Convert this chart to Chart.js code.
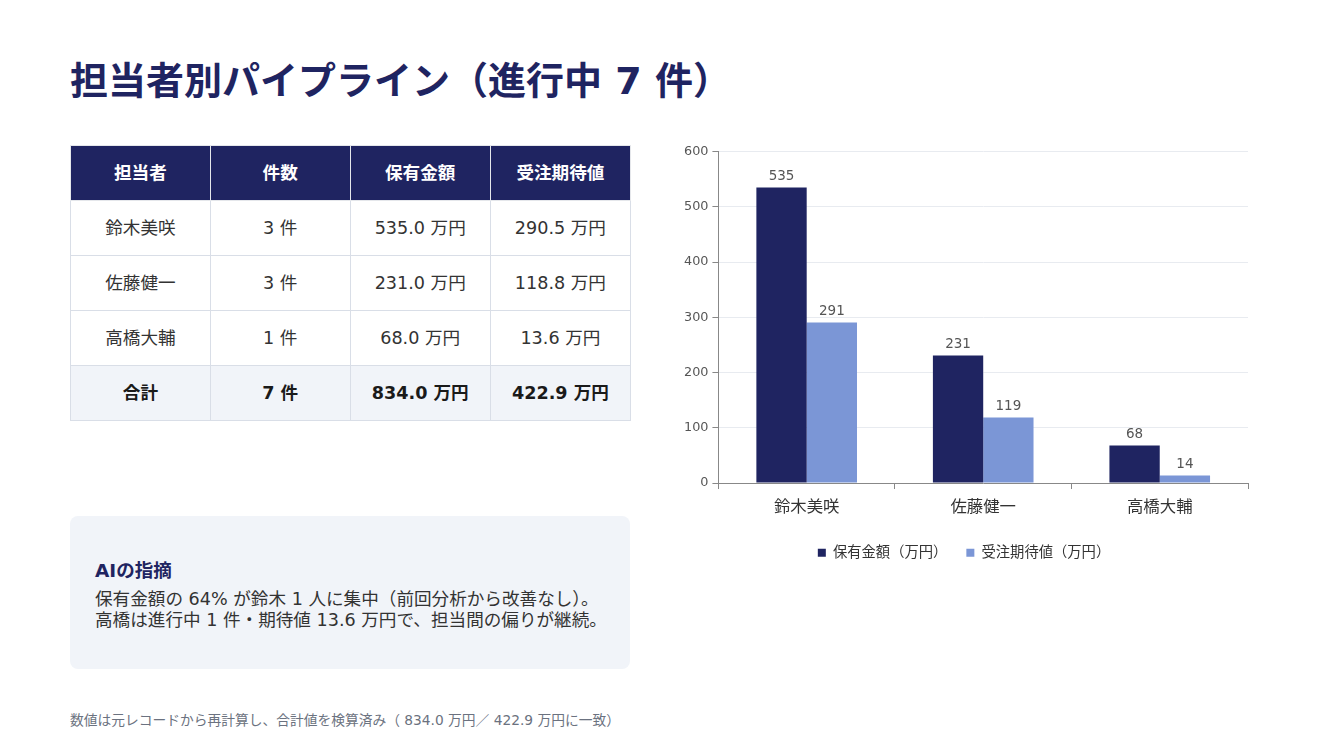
<!DOCTYPE html>
<html lang="ja">
<head>
<meta charset="utf-8">
<script src="https://cdn.jsdelivr.net/npm/chart.js@4.4.1/dist/chart.umd.min.js"></script>
<style>
  body { margin: 0; background: #fff; font-family: "DejaVu Sans", "Noto Sans CJK JP", sans-serif; color: #333; }
  .page { position: relative; width: 1334px; height: 750px; }
  h1 { position: absolute; left: 70px; top: 50px; margin: 0; font-size: 38px; font-weight: bold; color: #1f2461; }
  table { position: absolute; left: 70px; top: 145px; border-collapse: collapse; width: 561px; }
  th, td { width: 140px; height: 51px; border: 1px solid #d9dee7; text-align: center; font-size: 17.6px; padding: 0 0 3px 0; }
  th { background: #1f2461; color: #fff; font-weight: bold; border-color: #e5e7eb; }
  tr.total td { background: #f1f4f9; font-weight: bold; color: #1a1a1a; }
  .note { position: absolute; left: 70px; top: 516px; width: 560px; height: 153px; background: #f1f4f9; border-radius: 8px; }
  .note h2 { position: absolute; left: 25px; top: 40px; margin: 0; font-size: 18.5px; font-weight: bold; color: #1f2461; }
  .note p { position: absolute; left: 25px; top: 73px; margin: 0; font-size: 17.6px; line-height: 21px; color: #333; white-space: nowrap; }
  .foot { position: absolute; left: 70px; top: 709px; font-size: 13.75px; color: #6b7280; }
  .chart { position: absolute; left: 672px; top: 140px; width: 590px; height: 430px; }
</style>
</head>
<body>
<div class="page">
  <h1>担当者別パイプライン（進行中 7 件）</h1>
  <table id="tbl"></table>
  <div class="note">
    <h2>AIの指摘</h2>
    <p>保有金額の 64% が鈴木 1 人に集中（前回分析から改善なし）。<br>高橋は進行中 1 件・期待値 13.6 万円で、担当間の偏りが継続。</p>
  </div>
  <div class="foot">数値は元レコードから再計算し、合計値を検算済み（ 834.0 万円／ 422.9 万円に一致）</div>
  <div class="chart"><canvas id="c"></canvas></div>
</div>
<script>
const owners = ['鈴木美咲', '佐藤健一', '高橋大輔'];
const dealCounts = [3, 3, 1];
const heldAmount = [535.0, 231.0, 68.0];
const expectedValue = [290.5, 118.8, 13.6];
const headers = ['担当者', '件数', '保有金額', '受注期待値'];
const seriesNames = ['保有金額（万円）', '受注期待値（万円）'];

const NAVY = '#1f2461';
const LIGHT = '#7b96d6';
const FONT = '"DejaVu Sans", "Noto Sans CJK JP", sans-serif';

// ── table ──
const sum = a => a.reduce((x, y) => x + y, 0);
let html = '<tr>' + headers.map(h => '<th>' + h + '</th>').join('') + '</tr>';
owners.forEach((o, i) => {
  html += '<tr><td>' + o + '</td><td>' + dealCounts[i] + ' 件</td><td>' +
    heldAmount[i].toFixed(1) + ' 万円</td><td>' + expectedValue[i].toFixed(1) + ' 万円</td></tr>';
});
html += '<tr class="total"><td>合計</td><td>' + sum(dealCounts) + ' 件</td><td>' +
  sum(heldAmount).toFixed(1) + ' 万円</td><td>' + sum(expectedValue).toFixed(1) + ' 万円</td></tr>';
document.getElementById('tbl').innerHTML = html;

// ── value labels above bars ──
const barLabels = {
  id: 'barLabels',
  afterDatasetsDraw(chart) {
    const { ctx } = chart;
    ctx.save();
    ctx.font = '13.5px ' + FONT;
    ctx.fillStyle = '#555';
    ctx.textAlign = 'center';
    ctx.textBaseline = 'bottom';
    chart.data.datasets.forEach((ds, di) => {
      chart.getDatasetMeta(di).data.forEach((bar, i) => {
        ctx.fillText(String(Math.round(ds.data[i])), bar.x, bar.y - 4);
      });
    });
    ctx.restore();
  }
};

new Chart(document.getElementById('c'), {
  type: 'bar',
  data: {
    labels: owners,
    datasets: [
      { label: seriesNames[0], data: heldAmount, backgroundColor: NAVY },
      { label: seriesNames[1], data: expectedValue, backgroundColor: LIGHT },
    ],
  },
  options: {
    responsive: true, maintainAspectRatio: false,
    animation: false,
    layout: { padding: { top: 4, right: 14, left: 8, bottom: 0 } },
    datasets: { bar: { categoryPercentage: 0.57, barPercentage: 1.0 } },
    plugins: {
      legend: {
        position: 'bottom',
        labels: { boxWidth: 8, boxHeight: 8, color: '#333', font: { family: FONT, size: 14.3 }, padding: 19 },
      },
      tooltip: { enabled: false },
    },
    scales: {
      y: {
        min: 0, max: 600,
        ticks: { stepSize: 100, color: '#555', font: { family: FONT, size: 12.8 }, padding: 4 },
        grid: { color: '#e8ebf0', tickLength: 6, tickColor: '#888' },
        border: { color: '#888' },
      },
      x: {
        ticks: { color: '#333', font: { family: FONT, size: 16.4 }, padding: 9 },
        grid: { offset: true, drawOnChartArea: false, tickLength: 6, color: '#888' },
        border: { color: '#888' },
      },
    },
  },
  plugins: [barLabels],
});
</script>
</body>
</html>
